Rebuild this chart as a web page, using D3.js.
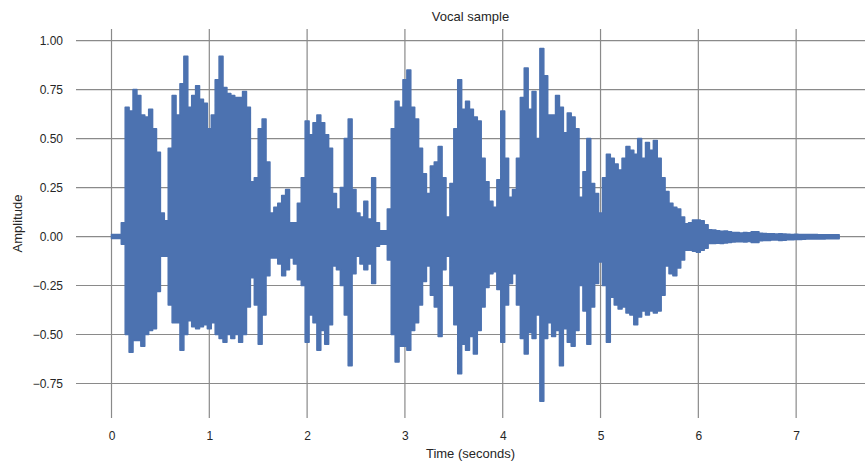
<!DOCTYPE html>
<html>
<head>
<meta charset="utf-8">
<script src="https://cdn.jsdelivr.net/npm/d3@7"></script>
<style>
  body { margin: 0; background: #fff; }
  svg { display: block; font-family: "Liberation Sans", Arial, sans-serif; }
  .tick text { fill: #262626; font-size: 12px; }
  .lbl { fill: #262626; font-size: 13px; }
</style>
</head>
<body>
<div id="chart"></div>
<script>
// --- DATA ---
// amplitude envelope of the recording, one value per 40 ms frame
const frameDur = 0.04;
const upperEnv = [
  0.01, 0.01, 0.01, 0.07, 0.66, 0.64, 0.75, 0.72, 0.62, 0.61, 0.65, 0.55,
  0.43, 0.12, 0.08, 0.45, 0.72, 0.62, 0.78, 0.92, 0.66, 0.72, 0.77, 0.70,
  0.68, 0.55, 0.62, 0.80, 0.92, 0.76, 0.73, 0.72, 0.71, 0.71, 0.74, 0.66,
  0.28, 0.30, 0.55, 0.60, 0.38, 0.12, 0.15, 0.17, 0.21, 0.24, 0.07, 0.07,
  0.17, 0.30, 0.59, 0.52, 0.58, 0.62, 0.58, 0.52, 0.45, 0.22, 0.14, 0.25,
  0.50, 0.60, 0.24, 0.12, 0.10, 0.18, 0.09, 0.30, 0.07, 0.03, 0.03, 0.14,
  0.55, 0.69, 0.66, 0.80, 0.85, 0.66, 0.60, 0.45, 0.32, 0.22, 0.36, 0.38,
  0.46, 0.30, 0.10, 0.27, 0.55, 0.80, 0.65, 0.69, 0.65, 0.61,
  0.59, 0.40, 0.28, 0.18, 0.15, 0.29, 0.64, 0.40, 0.20, 0.24, 0.40, 0.71,
  0.86, 0.65, 0.74, 0.50, 0.96, 0.82, 0.62, 0.62, 0.72, 0.66, 0.53, 0.63,
  0.61, 0.55, 0.20, 0.33, 0.50, 0.27, 0.22, 0.12, 0.30, 0.42, 0.40, 0.37,
  0.34, 0.40, 0.46, 0.44, 0.42, 0.50, 0.40, 0.48, 0.44, 0.49, 0.40,
  0.30, 0.23, 0.17, 0.15, 0.14, 0.10, 0.065, 0.07, 0.085, 0.085, 0.08, 0.06,
  0.035, 0.033, 0.03, 0.027, 0.028, 0.024, 0.021, 0.02, 0.018, 0.02, 0.019, 0.024,
  0.025, 0.017, 0.015, 0.014, 0.014, 0.013, 0.014, 0.013, 0.012, 0.011, 0.012, 0.011,
  0.01, 0.01, 0.01, 0.01, 0.009, 0.009, 0.009, 0.009, 0.009, 0.009
];
const lowerEnv = [
  -0.01, -0.01, -0.01, -0.04, -0.50, -0.59, -0.53, -0.53, -0.56, -0.50, -0.48, -0.47,
  -0.28, -0.10, -0.10, -0.35, -0.44, -0.44, -0.58, -0.50, -0.43, -0.46, -0.47, -0.46,
  -0.45, -0.47, -0.44, -0.50, -0.52, -0.54, -0.50, -0.52, -0.50, -0.54, -0.50, -0.36,
  -0.21, -0.35, -0.55, -0.40, -0.20, -0.11, -0.11, -0.14, -0.20, -0.17, -0.11, -0.14,
  -0.22, -0.25, -0.54, -0.40, -0.44, -0.58, -0.48, -0.55, -0.45, -0.15, -0.17, -0.25,
  -0.40, -0.66, -0.19, -0.10, -0.14, -0.17, -0.14, -0.24, -0.05, -0.04, -0.04, -0.12,
  -0.50, -0.64, -0.56, -0.56, -0.58, -0.48, -0.44, -0.35, -0.23, -0.15, -0.30, -0.36,
  -0.51, -0.17, -0.10, -0.25, -0.45, -0.70, -0.55, -0.58, -0.51, -0.60,
  -0.48, -0.36, -0.26, -0.19, -0.18, -0.27, -0.54, -0.35, -0.24, -0.19, -0.35, -0.52,
  -0.60, -0.49, -0.52, -0.40, -0.84, -0.52, -0.44, -0.51, -0.48, -0.66, -0.47, -0.54,
  -0.56, -0.48, -0.25, -0.38, -0.55, -0.36, -0.24, -0.13, -0.25, -0.54, -0.31, -0.35,
  -0.37, -0.36, -0.39, -0.40, -0.45, -0.41, -0.38, -0.40, -0.38, -0.39, -0.38,
  -0.30, -0.15, -0.19, -0.20, -0.16, -0.12, -0.07, -0.07, -0.075, -0.08, -0.07, -0.06,
  -0.036, -0.035, -0.034, -0.036, -0.033, -0.03, -0.028, -0.026, -0.027, -0.028, -0.025, -0.03,
  -0.03, -0.022, -0.02, -0.02, -0.018, -0.018, -0.02, -0.019, -0.017, -0.016, -0.015, -0.015,
  -0.014, -0.013, -0.013, -0.012, -0.012, -0.012, -0.011, -0.011, -0.011, -0.011
];
const xTicks = [0, 1, 2, 3, 4, 5, 6, 7];
const yTicks = [-0.75, -0.5, -0.25, 0, 0.25, 0.5, 0.75, 1.0];

// --- CHART ---
const W = 865, H = 462;
const plot = { left: 76, right: 865, top: 29, bottom: 418 };

const svg = d3.select("#chart").append("svg")
  .attr("width", W).attr("height", H);

const x = d3.scaleLinear().domain([-0.363, 7.704]).range([plot.left, plot.right]);
const y = d3.scaleLinear().domain([-0.926, 1.059]).range([plot.bottom, plot.top]);

// grid
const grid = svg.append("g").attr("stroke", "#8a8a8a").attr("stroke-width", 1.2);
grid.selectAll(".hg").data(yTicks).join("line")
  .attr("x1", plot.left).attr("x2", plot.right)
  .attr("y1", d => y(d)).attr("y2", d => y(d));
grid.selectAll(".vg").data(xTicks).join("line")
  .attr("y1", plot.top).attr("y2", plot.bottom)
  .attr("x1", d => x(d)).attr("x2", d => x(d));

// waveform (blocky frames look closer to a dense sample plot)
const frames = upperEnv.map((u, i) => ({ t: i * frameDur, hi: u, lo: lowerEnv[i] }));
const area = d3.area()
  .curve(d3.curveStep)
  .x(d => x(d.t))
  .y0(d => y(d.lo))
  .y1(d => y(d.hi));
svg.append("path")
  .datum(frames)
  .attr("d", area)
  .attr("fill", "#4c72b0")
  .attr("stroke", "#4c72b0")
  .attr("stroke-width", 1.5)
  .attr("stroke-linejoin", "round");

// axes
const yAxis = svg.append("g")
  .attr("transform", `translate(${plot.left},0)`)
  .call(d3.axisLeft(y).tickValues(yTicks).tickFormat(d3.format(".2f")).tickSize(0).tickPadding(13));
yAxis.select(".domain").remove();

const xAxis = svg.append("g")
  .attr("transform", `translate(0,${plot.bottom})`)
  .call(d3.axisBottom(x).tickValues(xTicks).tickFormat(d3.format("d")).tickSize(0).tickPadding(13));
xAxis.select(".domain").remove();

svg.selectAll(".tick text").attr("font-family", null).attr("font-size", null);

// labels
const cx = (plot.left + plot.right) / 2;
svg.append("text").attr("class", "lbl")
  .attr("x", cx).attr("y", 21).attr("text-anchor", "middle")
  .text("Vocal sample");
svg.append("text").attr("class", "lbl")
  .attr("x", cx).attr("y", 458).attr("text-anchor", "middle")
  .text("Time (seconds)");
svg.append("text").attr("class", "lbl")
  .attr("transform", `translate(22,${(plot.top + plot.bottom) / 2}) rotate(-90)`)
  .attr("text-anchor", "middle")
  .text("Amplitude");
</script>
</body>
</html>
